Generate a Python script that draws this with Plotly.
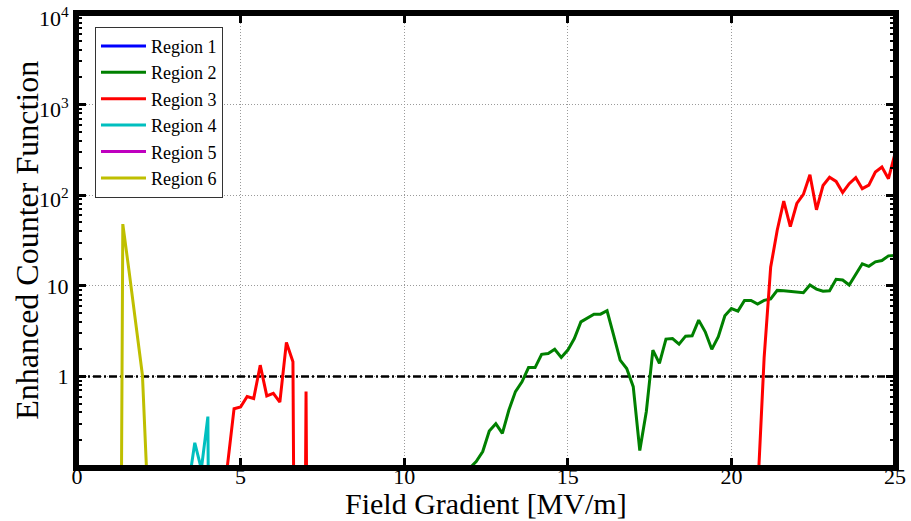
import plotly.graph_objects as go

# Field gradient sample points [MV/m] and enhanced counter function per region.
# A value of 0 means no counts (drawn as a drop to the bottom of the log axis).
region1_x = [0.0, 25.0]
region1_y = [0, 0]

region2_x = [11.8, 12.0, 12.2, 12.4, 12.6, 12.8, 13.0, 13.2, 13.4, 13.6, 13.8,
             14.0, 14.2, 14.4, 14.6, 14.8, 15.0, 15.2, 15.4, 15.6, 15.8,
             16.0, 16.2, 16.4, 16.6, 16.8, 17.0, 17.2, 17.4, 17.6, 17.8,
             18.0, 18.2, 18.4, 18.6, 18.8, 19.0, 19.2, 19.4, 19.6, 19.8,
             20.0, 20.2, 20.4, 20.6, 20.8, 21.0, 21.2, 21.4, 21.6, 21.8,
             22.0, 22.2, 22.4, 22.6, 22.8, 23.0, 23.2, 23.4, 23.6, 23.8,
             24.0, 24.2, 24.4, 24.6, 24.8, 25.0]
region2_y = [0, 0.097, 0.115, 0.148, 0.25, 0.30, 0.235, 0.425, 0.68, 0.87, 1.25,
             1.25, 1.75, 1.79, 1.99, 1.62, 1.95, 2.62, 4.0, 4.44, 4.86,
             4.86, 5.3, 2.85, 1.51, 1.22, 0.77, 0.152, 0.41, 1.95, 1.39,
             2.58, 2.62, 2.27, 2.78, 2.81, 4.18, 3.11, 1.99, 2.74, 4.67,
             5.6, 5.25, 6.9, 6.9, 6.3, 6.9, 7.15, 8.9, 8.8, 8.7,
             8.6, 8.4, 10.2, 9.2, 8.7, 8.8, 11.8, 11.6, 10.2, 13.3,
             17.5, 16.4, 18.4, 19.0, 21.4, 21.6]

region3_x = [4.4, 4.6, 4.8, 5.0, 5.2, 5.4, 5.6, 5.8, 6.0, 6.2, 6.4, 6.6, 6.8,
             7.0, 7.2, 20.6, 20.8, 21.0, 21.2, 21.4, 21.6, 21.8,
             22.0, 22.2, 22.4, 22.6, 22.8, 23.0, 23.2, 23.4, 23.6, 23.8,
             24.0, 24.2, 24.4, 24.6, 24.8, 25.0]
region3_y = [0, 0.105, 0.44, 0.46, 0.60, 0.57, 1.33, 0.61, 0.65, 0.52, 2.37, 1.45, 0,
             0.68, 0, 0, 0.05, 1.6, 16, 41, 86, 45,
             81, 102, 168, 69, 128, 158, 142, 107, 134, 156,
             118, 129, 180, 205, 152, 288]

region4_x = [3.2, 3.4, 3.6, 3.8, 4.0, 4.2]
region4_y = [0, 0.06, 0.185, 0.095, 0.36, 0]

region5_x = [0.0, 25.0]
region5_y = [0, 0]

region6_x = [1.2, 1.4, 1.6, 1.8, 2.0, 2.2, 2.4]
region6_y = [0, 48, 13.7, 3.8, 1.03, 0.022, 0]

threshold_x = [0.0, 25.0]
threshold_y = [1, 1]

x_ticks = [0, 5, 10, 15, 20, 25]
y_ticks = [1, 10, 100, 1000, 10000]
y_ticktext = ["1", "10", "10<sup>2</sup>", "10<sup>3</sup>", "10<sup>4</sup>"]

x_title = "Field Gradient [MV/m]"
y_title = "Enhanced Counter Function"

FLOOR = 1e-12  # stand-in for zero counts on the log axis
FONT = "Liberation Serif"

series = [
    ("Region 1", region1_x, region1_y, "#0000ff"),
    ("Region 2", region2_x, region2_y, "#008000"),
    ("Region 3", region3_x, region3_y, "#ff0000"),
    ("Region 4", region4_x, region4_y, "#00bfbf"),
    ("Region 5", region5_x, region5_y, "#bf00bf"),
    ("Region 6", region6_x, region6_y, "#bfbf00"),
]

fig = go.Figure()

# threshold at unity
fig.add_trace(go.Scatter(
    x=threshold_x, y=threshold_y, mode="lines", showlegend=False,
    line=dict(color="black", width=2.5, dash="8px,3px,2px,3px"),
    hoverinfo="skip"))

for name, xs, ys, color in series:
    fig.add_trace(go.Scatter(
        x=xs, y=[v if v > 0 else FLOOR for v in ys],
        mode="lines", name=name,
        line=dict(color=color, width=3)))

minor_vals = [m * 10 ** e for e in range(-1, 4) for m in range(2, 10)]

axis_common = dict(
    showline=True, linewidth=4, linecolor="black", mirror="allticks",
    ticks="inside", ticklen=9, tickwidth=3, tickcolor="black",
    showgrid=True, gridcolor="#9a9a9a", gridwidth=1, griddash="1px,2px",
    zeroline=False, automargin=False, ticklabeloverflow="allow",
    tickfont=dict(family=FONT, size=22),
)

# y tick labels: plain ones through the axis, powers of ten as annotations
# so the whole label (with its exponent) sits centred on the tick
plain = [t for t in y_ticktext if "<sup>" not in t]
axis_text = [t if t in plain else "" for t in y_ticktext]
label_annotations = [
    dict(text=t, xref="paper", yref="y", x=0, y=len(str(v)) - 1,
         xanchor="right", yanchor="middle", xshift=-6, yshift=-3,
         showarrow=False, font=dict(family=FONT, size=22))
    for v, t in zip(y_ticks, y_ticktext) if t not in plain
]

fig.update_layout(
    width=911, height=521,
    margin=dict(l=77, r=16, t=14, b=54, autoexpand=False),
    paper_bgcolor="white", plot_bgcolor="white",
    font=dict(family=FONT, color="black", size=22),
    showlegend=True,
    legend=dict(
        x=0.022, y=0.972, xanchor="left", yanchor="top",
        bgcolor="white", bordercolor="#333333", borderwidth=1,
        font=dict(family=FONT, size=18, color="black"),
        itemwidth=45,
    ),
    xaxis=dict(
        range=[0, 25], tickvals=x_ticks, ticktext=[str(v) for v in x_ticks],
        ticklabelstandoff=-13,
        **axis_common,
    ),
    yaxis=dict(
        type="log", range=[-1, 4],
        tickvals=y_ticks, ticktext=axis_text,
        minor=dict(tickvals=minor_vals, ticks="inside", ticklen=5,
                   tickwidth=2, tickcolor="black", showgrid=False),
        **axis_common,
    ),
    shapes=[
        # plot frame
        dict(type="rect", xref="paper", yref="paper", x0=0, x1=1, y0=0, y1=1,
             line=dict(color="black", width=4), fillcolor="rgba(0,0,0,0)",
             layer="above"),
    ],
    annotations=label_annotations + [
        dict(text=x_title, xref="paper", yref="paper", x=0.5, y=-0.08,
             xanchor="center", yanchor="middle", showarrow=False,
             font=dict(family=FONT, size=30)),
        dict(text=y_title, xref="paper", yref="paper", x=-0.062, y=0.5,
             xanchor="center", yanchor="middle", showarrow=False, textangle=-90,
             font=dict(family=FONT, size=32)),
    ],
)

fig.write_html("out.html")
